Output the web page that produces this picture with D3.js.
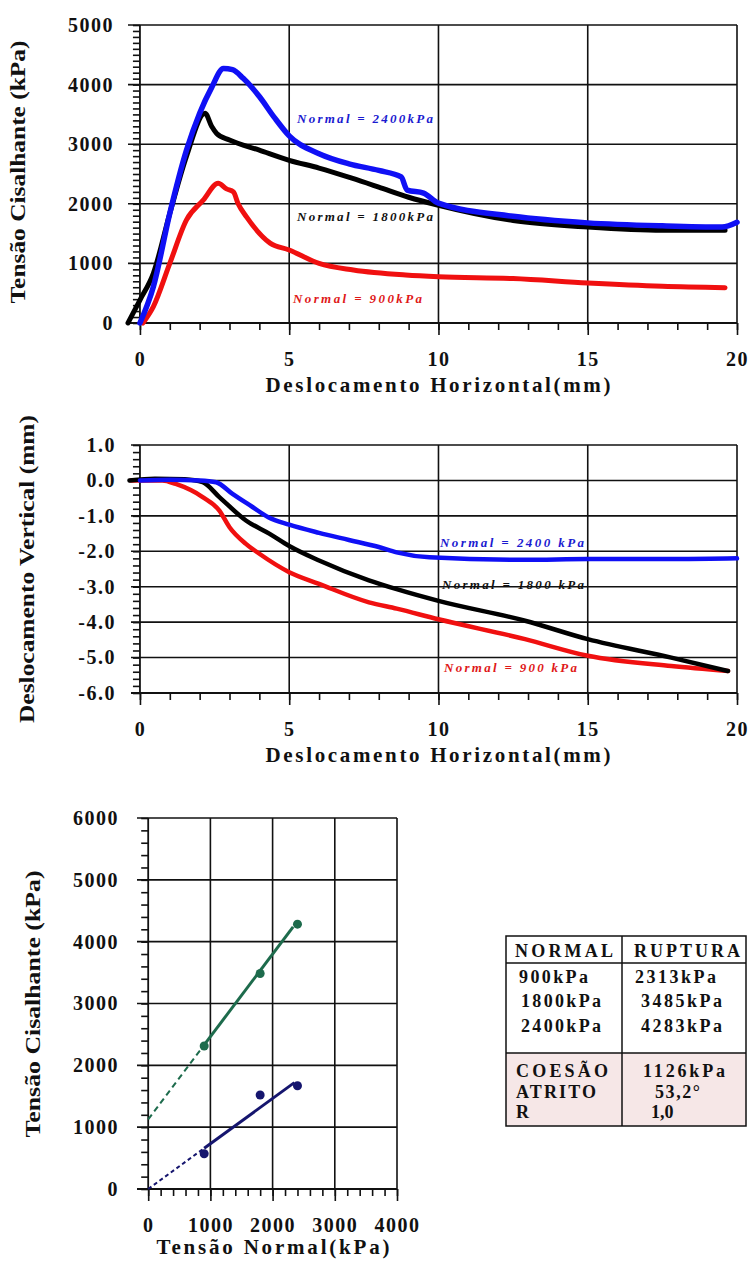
<!DOCTYPE html>
<html>
<head>
<meta charset="utf-8">
<script src="https://cdn.jsdelivr.net/npm/d3@7"></script>
<style>
  body { margin: 0; background: #fff; }
  text { font-family: "Liberation Serif", "Times New Roman", serif; font-weight: bold; }
</style>
</head>
<body>
<svg id="chart" width="750" height="1264"></svg>
<script>
// ---- top chart: shear stress vs horizontal displacement ----
var shearTicksX = [0, 5, 10, 15, 20]
var shearTicksY = [0, 1000, 2000, 3000, 4000, 5000]

var shear900X = [0.1, 0.45, 1.0, 1.56, 2.12, 2.62, 2.9, 3.13, 3.29, 3.57, 4.36, 5.0, 6.0, 7.15, 8.9, 10.0, 12.5, 15.0, 17.5, 19.6]
var shear900Y = [0, 275, 1000, 1730, 2060, 2345, 2250, 2200, 2000, 1780, 1340, 1225, 1000, 890, 805, 775, 745, 670, 615, 592]

var shear1800X = [-0.4, 0, 0.45, 1.0, 1.56, 2.18, 2.4, 2.57, 3.0, 4.0, 5.0, 6.0, 7.1, 8.0, 9.0, 10.0, 12.5, 15.0, 17.5, 19.6]
var shear1800Y = [0, 385, 834, 1840, 2800, 3520, 3300, 3180, 3070, 2900, 2730, 2600, 2430, 2280, 2110, 1975, 1720, 1610, 1555, 1555]

var shear2400X = [0, 0.45, 1.0, 1.56, 2.0, 2.4, 2.8, 3.1, 3.46, 4.0, 4.5, 5.0, 6.0, 7.0, 8.0, 8.75, 8.95, 9.5, 10.0, 12.5, 15.0, 17.5, 19.5, 20.0]
var shear2400Y = [0, 610, 1840, 2900, 3520, 3950, 4270, 4250, 4105, 3800, 3450, 3140, 2840, 2670, 2560, 2450, 2230, 2180, 2010, 1790, 1680, 1630, 1610, 1690]

// ---- middle chart: vertical vs horizontal displacement ----
var vertTicksX = [0, 5, 10, 15, 20]
var vertTicksY = [-6, -5, -4, -3, -2, -1, 0, 1]

var vert900X = [-0.3, 0.75, 1.2, 2.1, 2.66, 3.0, 3.55, 4.0, 5.0, 6.0, 7.67, 8.6, 10.0, 12.9, 15.0, 17.8, 19.7]
var vert900Y = [0, 0, -0.1, -0.47, -0.85, -1.32, -1.79, -2.07, -2.59, -2.92, -3.44, -3.62, -3.92, -4.48, -4.95, -5.24, -5.38]

var vert1800X = [-0.35, 0.5, 1.5, 2.1, 2.66, 3.55, 4.33, 5.0, 6.0, 7.67, 8.6, 10.0, 12.9, 15.0, 17.8, 19.7]
var vert1800Y = [0, 0.05, 0.03, -0.05, -0.47, -1.13, -1.5, -1.85, -2.26, -2.82, -3.07, -3.4, -3.96, -4.48, -5.0, -5.38]

var vert2400X = [0, 1.0, 2.0, 2.55, 3.1, 3.77, 4.3, 5.0, 6.0, 7.0, 8.0, 8.6, 9.7, 12.9, 15.0, 18.0, 20.0]
var vert2400Y = [0, 0.02, 0, -0.05, -0.38, -0.75, -1.04, -1.25, -1.48, -1.68, -1.88, -2.03, -2.17, -2.24, -2.22, -2.22, -2.2]

// ---- bottom chart: failure envelope ----
var envTicksX = [0, 1000, 2000, 3000, 4000]
var envTicksY = [0, 1000, 2000, 3000, 4000, 5000, 6000]
var normalStress = [900, 1800, 2400]
var peakShear = [2313, 3485, 4283]
var residualShear = [570, 1520, 1670]
var peakFitX = [0, 900, 2330]
var peakFitY = [1126, 2330, 4240]
var residualFitX = [0, 900, 2350]
var residualFitY = [0, 660, 1720]

// ---- table ----
var tableHeader = ["NORMAL", "RUPTURA"]
var tableNormal = ["900kPa", "1800kPa", "2400kPa"]
var tableRupture = ["2313kPa", "3485kPa", "4283kPa"]
var paramNames = ["COESÃO", "ATRITO", "R"]
var paramValues = ["1126kPa", "53,2°", "1,0"]

var svg = d3.select("#chart")

function zip(xs, ys) {
  return xs.map(function(d, i) { return [d, ys[i]] })
}

// draws frame, grid, ticks and labels; returns the scales
function panel(o) {
  var g = svg.append("g")
  var x = d3.scaleLinear().domain(o.xDomain).range(o.xRange)
  var y = d3.scaleLinear().domain(o.yDomain).range(o.yRange)
  var x0 = o.xDomain[0], x1 = o.xDomain[1]
  var y0 = o.yDomain[0], y1 = o.yDomain[1]

  // horizontal grid lines
  g.selectAll(".hg").data(o.yTicks).enter().append("line")
    .attr("x1", x(x0)).attr("x2", x(x1))
    .attr("y1", function(d) { return y(d) }).attr("y2", function(d) { return y(d) })
    .attr("stroke", "#111").attr("stroke-width", 1.6)

  // vertical grid lines
  g.selectAll(".vg").data(o.xTicks.filter(function(d) { return d > 0 })).enter().append("line")
    .attr("x1", function(d) { return x(d) }).attr("x2", function(d) { return x(d) })
    .attr("y1", y(y0)).attr("y2", y(y1))
    .attr("stroke", "#111").attr("stroke-width", 1.6)

  // y axis line at x = 0
  g.append("line")
    .attr("x1", x(0)).attr("x2", x(0)).attr("y1", y(y0)).attr("y2", y(y1))
    .attr("stroke", "#111").attr("stroke-width", 1.8)

  // minor ticks
  var xMinor = g.append("g").attr("transform", "translate(0," + y(y0) + ")")
    .call(d3.axisBottom(x).tickValues(o.xMinor).tickSize(7).tickFormat(""))
  var yMinor = g.append("g").attr("transform", "translate(" + x(0) + ",0)")
    .call(d3.axisLeft(y).tickValues(o.yMinor).tickSize(7).tickFormat(""))

  // major x ticks + labels
  var xMajor = g.append("g").attr("transform", "translate(0," + y(y0) + ")")
    .call(d3.axisBottom(x).tickValues(o.xTicks).tickSize(12).tickPadding(17).tickFormat(o.xFormat))

  // y labels
  var yMajor = g.append("g").attr("transform", "translate(" + x(0) + ",0)")
    .call(d3.axisLeft(y).tickValues(o.yTicks).tickSize(0).tickPadding(x(0) - o.yLabelRight).tickFormat(o.yFormat))

  ;[xMinor, yMinor, xMajor, yMajor].forEach(function(a) {
    a.select(".domain").remove()
    a.selectAll("line").attr("stroke", "#111").attr("stroke-width", 1.6)
    a.selectAll("text")
      .attr("fill", "#111")
      .style("font-family", '"Liberation Serif", serif')
      .style("font-weight", "bold")
      .style("font-size", "20px")
      .style("letter-spacing", "1.5px")
  })

  // x axis line
  g.append("line")
    .attr("x1", x(x0)).attr("x2", x(x1)).attr("y1", y(y0)).attr("y2", y(y0))
    .attr("stroke", "#111").attr("stroke-width", 1.8)

  // axis titles
  g.append("text")
    .attr("x", o.xTitle.cx).attr("y", y(y0) + o.xTitle.dy)
    .attr("text-anchor", "middle")
    .attr("textLength", o.xTitle.len).attr("lengthAdjust", "spacing")
    .style("font-size", "21px").attr("fill", "#111")
    .text(o.xTitle.text)

  g.append("text")
    .attr("transform", "translate(" + o.yTitle.cx + "," + o.yTitle.cy + ") rotate(-90)")
    .attr("text-anchor", "middle").attr("dy", "0.35em")
    .attr("textLength", o.yTitle.len).attr("lengthAdjust", "spacingAndGlyphs")
    .style("font-size", "21px").attr("fill", "#111")
    .text(o.yTitle.text)

  return { g: g, x: x, y: y }
}

function curve(p, xs, ys, color, width) {
  var line = d3.line()
    .x(function(d) { return p.x(d[0]) })
    .y(function(d) { return p.y(d[1]) })
    .curve(d3.curveMonotoneX)
  p.g.append("path")
    .datum(zip(xs, ys))
    .attr("d", line)
    .attr("fill", "none")
    .attr("stroke", color)
    .attr("stroke-width", width)
    .attr("stroke-linejoin", "round")
    .attr("stroke-linecap", "round")
}

function tag(p, txt, x, y, len, color) {
  p.g.append("text")
    .attr("x", x).attr("y", y).attr("dy", "0.35em")
    .attr("textLength", len).attr("lengthAdjust", "spacing")
    .style("font-size", "13px").style("font-style", "italic")
    .attr("fill", color)
    .text(txt)
}

var intFmt = function(d) { return String(d) }
var decFmt = function(d) { return d.toFixed(1) }

// ---------- top chart ----------
var shearChart = panel({
  xDomain: [-0.4, 20], xRange: [128, 737],
  yDomain: [0, 5000], yRange: [323, 25],
  xTicks: shearTicksX, yTicks: shearTicksY,
  xMinor: d3.range(0, 21, 1), yMinor: d3.range(0, 5001, 100),
  xFormat: intFmt, yFormat: intFmt, yLabelRight: 114,
  xTitle: { text: "Deslocamento Horizontal(mm)", cx: 438, dy: 69, len: 345 },
  yTitle: { text: "Tensão Cisalhante (kPa)", cx: 18, cy: 172, len: 263 }
})
curve(shearChart, shear900X, shear900Y, "#f01010", 5)
curve(shearChart, shear1800X, shear1800Y, "#000", 5)
curve(shearChart, shear2400X, shear2400Y, "#1010f5", 5.5)
tag(shearChart, "Normal = 2400kPa", 297, 118, 136, "#1a1ad0")
tag(shearChart, "Normal = 1800kPa", 297, 216, 136, "#111")
tag(shearChart, "Normal = 900kPa", 293, 298, 129, "#e01818")

// ---------- middle chart ----------
var vertChart = panel({
  xDomain: [-0.3, 20], xRange: [131, 737],
  yDomain: [-6, 1], yRange: [693, 445],
  xTicks: vertTicksX, yTicks: vertTicksY,
  xMinor: d3.range(0, 21, 1), yMinor: d3.range(-6, 1.01, 0.2),
  xFormat: intFmt, yFormat: decFmt, yLabelRight: 116,
  xTitle: { text: "Deslocamento Horizontal(mm)", cx: 438, dy: 69, len: 345 },
  yTitle: { text: "Deslocamento Vertical (mm)", cx: 27, cy: 569, len: 308 }
})
curve(vertChart, vert900X, vert900Y, "#f01010", 4.5)
curve(vertChart, vert1800X, vert1800Y, "#000", 4.5)
curve(vertChart, vert2400X, vert2400Y, "#1010f5", 4.5)
tag(vertChart, "Normal = 2400 kPa", 440, 542, 144, "#1a1ad0")
tag(vertChart, "Normal = 1800 kPa", 442, 584, 142, "#111")
tag(vertChart, "Normal = 900 kPa", 444, 667, 133, "#e01818")

// ---------- bottom chart ----------
var envChart = panel({
  xDomain: [-180, 4000], xRange: [137, 397],
  yDomain: [0, 6000], yRange: [1189, 818],
  xTicks: envTicksX, yTicks: envTicksY,
  xMinor: d3.range(0, 4001, 200), yMinor: d3.range(0, 6001, 200),
  xFormat: intFmt, yFormat: intFmt, yLabelRight: 119,
  xTitle: { text: "Tensão Normal(kPa)", cx: 273, dy: 65, len: 233 },
  yTitle: { text: "Tensão Cisalhante (kPa)", cx: 33, cy: 1004, len: 267 }
})

var fitLine = d3.line()
  .x(function(d) { return envChart.x(d[0]) })
  .y(function(d) { return envChart.y(d[1]) })

function fit(xs, ys, color, dash) {
  var pts = zip(xs, ys)
  envChart.g.append("path").datum(pts.slice(0, 2)).attr("d", fitLine)
    .attr("fill", "none").attr("stroke", color).attr("stroke-width", 2)
    .attr("stroke-dasharray", dash)
  envChart.g.append("path").datum(pts.slice(1)).attr("d", fitLine)
    .attr("fill", "none").attr("stroke", color).attr("stroke-width", 3)
}
fit(peakFitX, peakFitY, "#1d6b4c", "6,4")
fit(residualFitX, residualFitY, "#15156e", "4,3")

envChart.g.selectAll(".pk").data(zip(normalStress, peakShear)).enter().append("circle")
  .attr("cx", function(d) { return envChart.x(d[0]) })
  .attr("cy", function(d) { return envChart.y(d[1]) })
  .attr("r", 4.5).attr("fill", "#1d6b4c")

envChart.g.selectAll(".rs").data(zip(normalStress, residualShear)).enter().append("circle")
  .attr("cx", function(d) { return envChart.x(d[0]) })
  .attr("cy", function(d) { return envChart.y(d[1]) })
  .attr("r", 4.5).attr("fill", "#15156e")

// ---------- table ----------
var tb = svg.append("g")
var tL = 506, tR = 746, tC = 622, tTop = 936, tHead = 963, tMid = 1053, tBot = 1126

tb.append("rect").attr("x", tL).attr("y", tMid).attr("width", tR - tL).attr("height", tBot - tMid)
  .attr("fill", "#f6e7e7")
tb.append("rect").attr("x", tL).attr("y", tTop).attr("width", tR - tL).attr("height", tBot - tTop)
  .attr("fill", "none").attr("stroke", "#111").attr("stroke-width", 1.5)
;[tHead, tMid].forEach(function(yy) {
  tb.append("line").attr("x1", tL).attr("x2", tR).attr("y1", yy).attr("y2", yy)
    .attr("stroke", "#111").attr("stroke-width", 1.5)
})
tb.append("line").attr("x1", tC).attr("x2", tC).attr("y1", tTop).attr("y2", tBot)
  .attr("stroke", "#111").attr("stroke-width", 1.5)

function cell(txt, x, y, len) {
  var t = tb.append("text").attr("x", x).attr("y", y).attr("dy", "0.35em")
    .style("font-size", "18px").attr("fill", "#111")
    .text(txt)
  if (len) t.attr("textLength", len).attr("lengthAdjust", "spacing")
}

cell(tableHeader[0], 515, 951, 98)
cell(tableHeader[1], 634, 951, 106)

var rowY = [977, 1001, 1026]
var normX = [519, 521, 521], normW = [69, 80, 80]
var rupX = [635, 641, 641]
tableNormal.forEach(function(t, i) { cell(t, normX[i], rowY[i], normW[i]) })
tableRupture.forEach(function(t, i) { cell(t, rupX[i], rowY[i], 81) })

var pY = [1071, 1092, 1112]
var pNameW = [92, 80, 0]
var pValX = [643, 655, 651], pValW = [82, 45, 0]
paramNames.forEach(function(t, i) { cell(t, 516, pY[i], pNameW[i]) })
paramValues.forEach(function(t, i) { cell(t, pValX[i], pY[i], pValW[i]) })
</script>
</body>
</html>
